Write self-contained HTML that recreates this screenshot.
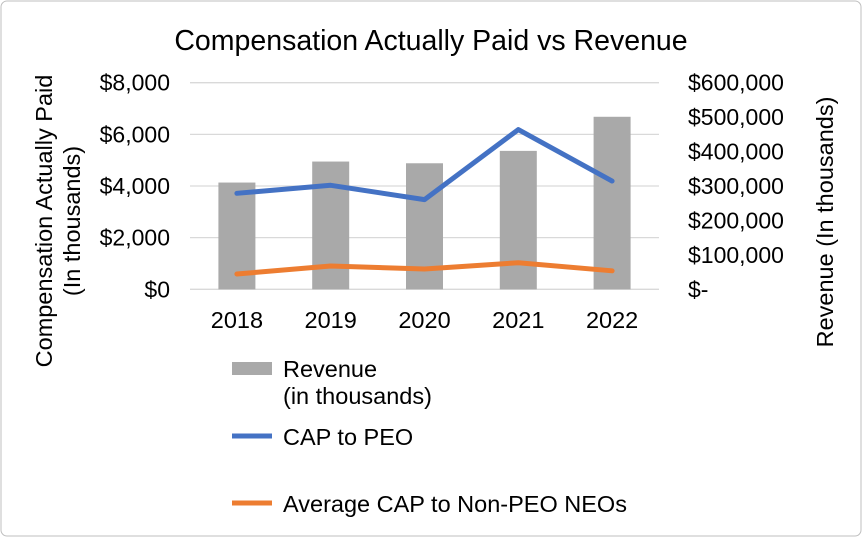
<!DOCTYPE html>
<html><head><meta charset="utf-8"><style>
html,body{margin:0;padding:0;background:#fff}
svg{display:block;font-family:"Liberation Sans",Arial,sans-serif}
</style></head><body>
<svg id="chart" width="864" height="538">
<rect x="1" y="1" width="860" height="535" rx="6" fill="#fff" stroke="#bfbfbf"/>
<text x="431" y="50" font-size="28.5" text-anchor="middle" fill="#000">Compensation Actually Paid vs Revenue</text>
<g id="grid"></g><g id="bars"></g><g id="lines"></g><g id="axes"></g>
<text transform="translate(52,221) rotate(-90)" font-size="23.5" text-anchor="middle">Compensation  Actually Paid</text>
<text transform="translate(80,221) rotate(-90)" font-size="23.5" text-anchor="middle">(In thousands)</text>
<text transform="translate(833,222) rotate(-90)" font-size="23.5" text-anchor="middle">Revenue  (In thousands)</text>
<g>
<rect x="232" y="362" width="40" height="13" fill="#a9a9a9"/>
<text x="283" y="377" font-size="23.5">Revenue</text>
<text x="283" y="404" font-size="23.5">(in thousands)</text>
<line x1="232" y1="436" x2="272" y2="436" stroke="#4472c4" stroke-width="5"/>
<text x="283" y="445" font-size="23.5">CAP to PEO</text>
<line x1="232" y1="503" x2="272" y2="503" stroke="#ed7d31" stroke-width="5"/>
<text x="283" y="512" font-size="23.5">Average CAP to Non-PEO NEOs</text>
</g>
</svg>
<script>
const years=["2018","2019","2020","2021","2022"];
const revenue=[310000,371000,366000,402000,501000];
const capPeo=[3717,4027,3473,6184,4193];
const capNeo=[592,902,786,1030,716];
const leftTicks=[0,2000,4000,6000,8000];
const leftTickLabels=["$0","$2,000","$4,000","$6,000","$8,000"];
const rightTicks=[0,100000,200000,300000,400000,500000,600000];
const rightTickLabels=["$-","$100,000","$200,000","$300,000","$400,000","$500,000","$600,000"];
const NS="http://www.w3.org/2000/svg";
const X0=190,X1=659,Y0=289.3,YT=82.7;
const band=(X1-X0)/years.length;
const xc=i=>X0+band*(i+0.5);
const yL=v=>Y0-(v/8000)*(Y0-YT);
const yR=v=>Y0-(v/600000)*(Y0-YT);
function mk(tag,attrs,parent){const e=document.createElementNS(NS,tag);for(const k in attrs)e.setAttribute(k,attrs[k]);document.getElementById(parent).appendChild(e);return e;}
leftTicks.forEach((t,i)=>{
 const g=mk('line',{x1:X0,x2:X1,y1:yL(t),y2:yL(t),stroke:'#d9d9d9','stroke-width':1.3},'grid');
 
 
 const l=mk('text',{x:170,y:yL(t)+8,'font-size':23,'text-anchor':'end'},'axes');l.textContent=leftTickLabels[i];
 
 
});
rightTicks.forEach((t,i)=>{
 const l=mk('text',{x:688,y:yR(t)+8,'font-size':23},'axes');l.textContent=rightTickLabels[i];
 
 
});
years.forEach((yr,i)=>{
 const b=mk('rect',{x:xc(i)-18.5,y:yR(revenue[i]),width:37,height:Y0-yR(revenue[i]),fill:'#a9a9a9'},'bars');
 
 
 const l=mk('text',{x:xc(i),y:328,'font-size':23.5,'text-anchor':'middle'},'axes');l.textContent=yr;
 
 
});
const pts=a=>a.map((v,i)=>xc(i)+','+yL(v)).join(' ');
const p1=mk('polyline',{points:pts(capPeo),fill:'none',stroke:'#4472c4','stroke-width':5,'stroke-linejoin':'round','stroke-linecap':'round'},'lines');


const p2=mk('polyline',{points:pts(capNeo),fill:'none',stroke:'#ed7d31','stroke-width':5,'stroke-linejoin':'round','stroke-linecap':'round'},'lines');


</script>
</body></html>
